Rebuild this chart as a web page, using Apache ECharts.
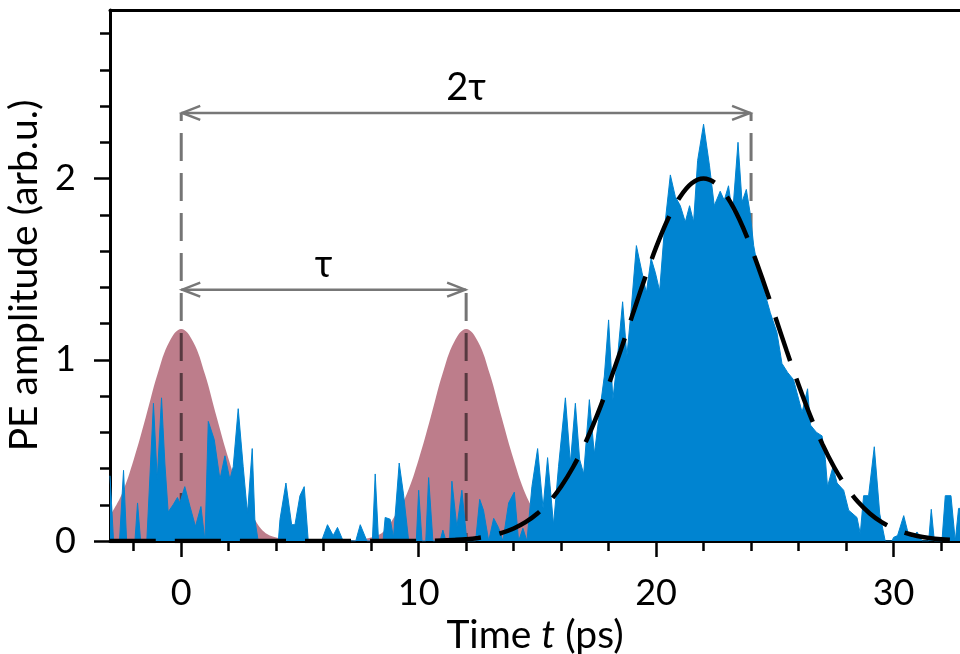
<!DOCTYPE html>
<html>
<head>
<meta charset="utf-8">
<script src="https://cdn.jsdelivr.net/npm/echarts@6/dist/echarts.min.js"></script>
<style>
  html, body { margin: 0; padding: 0; background: #ffffff; }
  #chart { width: 960px; height: 654px; }
</style>
</head>
<body>
<div id="chart"></div>
<script>
// Measured photon-echo signal: [time (ps), amplitude (arb.u.)]
const signal = [
  [-3.0, 0.36], [-2.85, 0], [-2.6, 0], [-2.43, 0.39], [-2.3, 0], [-1.95, 0], [-1.84, 0.21], [-1.71, 0],
  [-1.45, 0], [-1.17, 0.76], [-1.01, 0.34], [-0.83, 0.79], [-0.69, 0.43], [-0.55, 0.16], [-0.34, 0.20],
  [-0.16, 0.24], [-0.06, 0.21], [0.15, 0.30], [0.37, 0.19], [0.6, 0.08], [0.83, 0.19], [1.0, 0],
  [1.14, 0.66], [1.39, 0.56], [1.63, 0.34], [1.84, 0.47], [2.05, 0.34], [2.19, 0.41], [2.40, 0.73],
  [2.61, 0.41], [2.79, 0.15], [2.99, 0.51], [3.10, 0.12], [3.24, 0], [4.09, 0], [4.16, 0.12],
  [4.41, 0.32], [4.65, 0.09], [4.79, 0.09], [5.0, 0.25], [5.18, 0.30], [5.35, 0], [5.91, 0],
  [6.16, 0.09], [6.40, 0.03], [6.58, 0.075], [6.82, 0], [7.35, 0], [7.54, 0.09], [7.82, 0], [8.05, 0],
  [8.17, 0.37], [8.31, 0], [8.5, 0], [8.59, 0.13], [8.80, 0.12], [8.94, 0.02], [9.18, 0.43],
  [9.36, 0.26], [9.58, 0], [9.9, 0], [10.0, 0.28], [10.14, 0], [10.3, 0], [10.42, 0.35], [10.60, 0],
  [10.9, 0], [11.02, 0.06], [11.15, 0], [11.3, 0], [11.40, 0.33], [11.61, 0.075], [11.82, 0.28],
  [12.03, 0], [12.4, 0], [12.57, 0.23], [12.73, 0.17], [12.95, 0], [13.16, 0.125], [13.36, 0.075],
  [13.55, 0], [13.79, 0.21], [14.03, 0.27], [14.21, 0], [14.39, 0.07], [14.56, 0], [14.77, 0.30],
  [15.01, 0.51], [15.24, 0.18], [15.43, 0.46], [15.68, 0.09], [15.89, 0.41], [16.18, 0.79],
  [16.39, 0.43], [16.6, 0.76], [16.78, 0.45], [16.95, 0.37], [17.19, 0.78], [17.40, 0.48],
  [17.58, 0.67], [17.82, 0.91], [18.0, 1.22], [18.18, 0.78], [18.38, 1.02], [18.59, 1.32],
  [18.77, 1.02], [18.94, 1.26], [19.17, 1.63], [19.41, 1.48], [19.59, 1.37], [19.79, 1.56],
  [19.97, 1.48], [20.15, 1.38], [20.35, 1.72], [20.6, 2.02], [20.81, 1.90], [21.02, 1.85],
  [21.23, 1.76], [21.41, 1.85], [21.58, 1.76], [21.75, 2.10], [22.0, 2.30], [22.25, 2.07],
  [22.45, 1.85], [22.7, 1.93], [22.87, 1.88], [23.05, 1.96], [23.22, 1.80], [23.45, 2.20],
  [23.62, 1.87], [23.8, 1.94], [23.96, 1.81], [24.11, 1.63], [24.32, 1.48], [24.53, 1.39],
  [24.81, 1.26], [25.09, 1.15], [25.3, 0.98], [25.54, 0.93], [25.79, 0.89], [26.15, 0.71],
  [26.38, 0.84], [26.5, 0.64], [26.75, 0.60], [26.99, 0.58], [27.13, 0.45], [27.22, 0.30],
  [27.45, 0.41], [27.62, 0.32], [27.9, 0.28], [28.11, 0.17], [28.46, 0.13], [28.6, 0.04],
  [28.74, 0.25], [28.95, 0.25], [29.19, 0.52], [29.42, 0.15], [29.65, 0], [29.94, 0], [30.0, 0.02],
  [30.17, 0.03], [30.43, 0.14], [30.64, 0.03], [30.82, 0.02], [30.99, 0.05], [31.2, 0], [31.48, 0],
  [31.59, 0.175], [31.72, 0], [32.04, 0], [32.18, 0.25], [32.42, 0.25], [32.6, 0], [32.74, 0.18],
  [32.85, 0.18]
];

// Excitation pulses centred at 0 ps and 12 ps
const pulseFirst = [
  [-3.0, 0.14], [-2.5, 0.26], [-2.0, 0.45], [-1.5, 0.68], [-1.0, 0.92], [-0.5, 1.10], [0, 1.17],
  [0.5, 1.10], [1.0, 0.92], [1.5, 0.68], [2.0, 0.45], [2.5, 0.26], [3.0, 0.14], [3.5, 0.05],
  [4.0, 0.02], [4.5, 0.008], [5.0, 0]
];
const pulseSecond = [
  [7.0, 0], [7.5, 0.008], [8.0, 0.02], [8.5, 0.05], [9.0, 0.14], [9.5, 0.26], [10.0, 0.45],
  [10.5, 0.68], [11.0, 0.92], [11.5, 1.10], [12.0, 1.17], [12.5, 1.10], [13.0, 0.92], [13.5, 0.68],
  [14.0, 0.45], [14.5, 0.26], [15.0, 0.14], [15.5, 0.05], [16.0, 0.02], [16.5, 0.008], [17.0, 0]
];

// Gaussian fit of the echo
const echoFit = [
  [-3, 0], [10, 0], [11, 0.003], [11.5, 0.006], [12, 0.010], [12.5, 0.017], [13, 0.028],
  [13.5, 0.045], [14, 0.069], [14.5, 0.104], [15, 0.152], [15.5, 0.216], [16, 0.301], [16.5, 0.407],
  [17, 0.536], [17.5, 0.689], [18, 0.862], [18.5, 1.049], [19, 1.245], [19.5, 1.439], [20, 1.62],
  [20.5, 1.777], [21, 1.897], [21.5, 1.974], [22, 2.0], [22.5, 1.974], [23, 1.897], [23.5, 1.777],
  [24, 1.62], [24.5, 1.439], [25, 1.245], [25.5, 1.049], [26, 0.862], [26.5, 0.689], [27, 0.536],
  [27.5, 0.407], [28, 0.301], [28.5, 0.216], [29, 0.152], [29.5, 0.104], [30, 0.069], [30.5, 0.045],
  [31, 0.028], [31.5, 0.017], [32, 0.010], [32.5, 0.006], [33, 0.003]
];

// Vertical guides: [time, top of guide]
const guides = [[0, 2.362], [12, 1.387], [24, 2.362]];
// Delay arrows: [from, to, level, label]
const delayArrows = [[0, 24, 2.362, '2τ'], [0, 12, 1.387, 'τ']];

const xMajor = [0, 10, 20, 30];
const xMinor = [-2, 2, 4, 6, 8, 12, 14, 16, 18, 22, 24, 26, 28, 32];
const yMajor = [0, 1, 2];
const yMinor = [0.2, 0.4, 0.6, 0.8, 1.2, 1.4, 1.6, 1.8, 2.2, 2.4, 2.6, 2.8];

const FONT = 'Lato, "Noto Sans", "DejaVu Sans", sans-serif';
const X_MIN = -3, X_MAX = 32.8, Y_MIN = 0, Y_MAX = 2.93;
const BLUE = '#0084d1';
const PINK = '#bd7d8b';
const GREY = '#777777';

const chart = echarts.init(document.getElementById('chart'), null, { renderer: 'canvas' });

function baseX(extra) {
  return Object.assign({
    type: 'value', min: X_MIN, max: X_MAX, gridIndex: 0,
    splitLine: { show: false },
    axisLine: { show: false, onZero: false },
    axisTick: { show: false },
    axisLabel: { show: false }
  }, extra);
}
function baseY(extra) {
  return Object.assign({
    type: 'value', min: Y_MIN, max: Y_MAX, gridIndex: 0,
    splitLine: { show: false },
    axisLine: { show: false, onZero: false },
    axisTick: { show: false },
    axisLabel: { show: false }
  }, extra);
}

const option = {
  animation: false,
  backgroundColor: '#ffffff',
  grid: { left: 110, right: 0, top: 10, bottom: 113, containLabel: false, outerBoundsMode: 'none' },
  xAxis: [
    baseX({
      position: 'bottom',
      axisLine: { show: true, onZero: false, lineStyle: { color: '#000', width: 3 } },
      axisTick: { show: true, customValues: xMajor, length: 16, lineStyle: { color: '#000', width: 2.5 } },
      axisLabel: { show: true, customValues: xMajor, color: '#000', fontSize: 36, fontFamily: FONT, margin: 34 },
      name: '{n|Time }{i|t}{n| (ps)}',
      nameLocation: 'middle',
      nameGap: 74,
      nameTextStyle: {
        rich: {
          n: { fontSize: 39, fontFamily: FONT, color: '#000' },
          i: { fontSize: 39, fontFamily: FONT, fontStyle: 'italic', color: '#000' }
        }
      }
    }),
    baseX({
      position: 'bottom',
      axisLine: { show: false, onZero: false },
      axisTick: { show: true, customValues: xMinor, length: 10, lineStyle: { color: '#000', width: 2.5 } }
    }),
    baseX({
      position: 'top',
      axisLine: { show: true, onZero: false, lineStyle: { color: '#000', width: 3 } }
    })
  ],
  yAxis: [
    baseY({
      position: 'left',
      axisLine: { show: true, onZero: false, lineStyle: { color: '#000', width: 3 } },
      axisTick: { show: true, customValues: yMajor, length: 16, lineStyle: { color: '#000', width: 2.5 } },
      axisLabel: { show: true, customValues: yMajor, color: '#000', fontSize: 36, fontFamily: FONT, margin: 34 },
      name: 'PE amplitude (arb.u.)',
      nameLocation: 'middle',
      nameRotate: 90,
      nameGap: 60,
      nameTextStyle: { fontSize: 39, fontFamily: FONT, color: '#000' }
    }),
    baseY({
      position: 'left',
      axisLine: { show: false, onZero: false },
      axisTick: { show: true, customValues: yMinor, length: 10, lineStyle: { color: '#000', width: 2.5 } }
    })
  ],
  series: [
    {
      type: 'line', name: 'pulse 1', data: pulseFirst, xAxisIndex: 0, yAxisIndex: 0,
      smooth: 0.4, symbol: 'none', z: 1,
      lineStyle: { width: 0 }, areaStyle: { color: PINK, opacity: 1 }
    },
    {
      type: 'line', name: 'pulse 2', data: pulseSecond, xAxisIndex: 0, yAxisIndex: 0,
      smooth: 0.4, symbol: 'none', z: 1,
      lineStyle: { width: 0 }, areaStyle: { color: PINK, opacity: 1 }
    },
    {
      type: 'custom', name: 'guides', data: guides, xAxisIndex: 0, yAxisIndex: 0, z: 2,
      silent: true,
      renderItem: function (params, api) {
        const top = api.coord([api.value(0), api.value(1)]);
        const bottom = api.coord([api.value(0), 0]);
        const phase = (((top[1] - 13) % 40) + 40) % 40;
        return {
          type: 'line',
          shape: { x1: top[0], y1: top[1], x2: bottom[0], y2: bottom[1] },
          style: { stroke: 'rgba(0,0,0,0.54)', lineWidth: 3, lineDash: [28, 12], lineDashOffset: phase }
        };
      }
    },
    {
      type: 'line', name: 'echo', data: signal, xAxisIndex: 0, yAxisIndex: 0,
      symbol: 'none', z: 3,
      lineStyle: { width: 1, color: BLUE }, areaStyle: { color: BLUE, opacity: 1 }
    },
    {
      type: 'line', name: 'fit', data: echoFit, xAxisIndex: 0, yAxisIndex: 0,
      smooth: 0.35, symbol: 'none', z: 4,
      lineStyle: { width: 4.5, color: '#000', type: [46, 19], cap: 'butt' }
    },
    {
      type: 'custom', name: 'delays', data: delayArrows, xAxisIndex: 0, yAxisIndex: 0, z: 5,
      silent: true,
      dimensions: ['from', 'to', 'level', 'label'],
      renderItem: function (params, api) {
        const item = delayArrows[params.dataIndex];
        const a = api.coord([item[0], item[2]]);
        const b = api.coord([item[1], item[2]]);
        const head = 19, half = 7;
        const st = { stroke: GREY, lineWidth: 2.5, fill: null };
        return {
          type: 'group',
          children: [
            { type: 'line', shape: { x1: a[0], y1: a[1], x2: b[0], y2: b[1] }, style: st },
            { type: 'polyline', shape: { points: [[a[0] + head, a[1] - half], [a[0] + 1, a[1]], [a[0] + head, a[1] + half]] }, style: st },
            { type: 'polyline', shape: { points: [[b[0] - head, b[1] - half], [b[0] - 1, b[1]], [b[0] - head, b[1] + half]] }, style: st },
            {
              type: 'text', x: (a[0] + b[0]) / 2, y: a[1] - 6,
              style: { text: item[3], fill: '#000', fontSize: 38, fontFamily: FONT, align: 'center', verticalAlign: 'bottom' }
            }
          ]
        };
      }
    }
  ]
};

chart.setOption(option);
</script>
</body>
</html>
